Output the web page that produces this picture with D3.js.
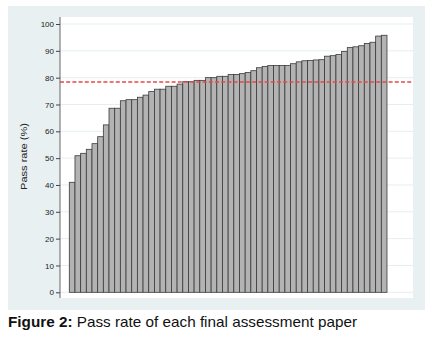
<!DOCTYPE html>
<html>
<head>
<meta charset="utf-8">
<script src="https://cdn.jsdelivr.net/npm/d3@7"></script>
<style>
  body { margin: 0; background: #fff; }
  svg { display: block; font-family: "Liberation Sans", Arial, sans-serif; }
</style>
</head>
<body>
<div id="chart"></div>
<script>
// pass rate (%) of each final assessment paper, sorted ascending
const passRates = [
  41.0, 50.9, 51.8, 53.3, 55.4, 58.0, 62.4, 68.6, 68.6, 71.4,
  71.8, 71.8, 72.7, 73.5, 74.8, 75.7, 75.7, 76.8, 76.8, 77.6,
  78.5, 78.5, 79.0, 79.0, 80.0, 80.0, 80.5, 80.5, 81.2, 81.2,
  81.5, 81.9, 82.6, 83.7, 84.2, 84.5, 84.5, 84.5, 84.5, 85.2,
  85.9, 86.3, 86.4, 86.6, 86.7, 88.0, 88.2, 88.6, 89.8, 91.2,
  91.5, 91.9, 92.7, 93.2, 95.5, 95.8
];
const meanRate = 78.4;
const yTicks = [0, 10, 20, 30, 40, 50, 60, 70, 80, 90, 100];
const yTitle = "Pass rate (%)";
const captionBold = "Figure 2:";
const captionText = " Pass rate of each final assessment paper";

const W = 432, H = 344;
const svg = d3.select("#chart").append("svg")
  .attr("width", W)
  .attr("height", H);

// outer graph region
svg.append("rect")
  .attr("x", 8).attr("y", 6)
  .attr("width", 417).attr("height", 304)
  .attr("fill", "#e8f0f2");

// plot region
const plot = { left: 60, right: 413, top: 17, bottom: 298 };
svg.append("rect")
  .attr("x", plot.left).attr("y", plot.top)
  .attr("width", plot.right - plot.left)
  .attr("height", plot.bottom - plot.top)
  .attr("fill", "#fff");

const x = d3.scaleBand()
  .domain(d3.range(passRates.length))
  .range([69.3, 387])
  .padding(0);

const y = d3.scaleLinear()
  .domain([0, 100])
  .range([292.3, 24]);

// gridlines
svg.append("g")
  .selectAll("line")
  .data(yTicks)
  .join("line")
  .attr("x1", plot.left).attr("x2", plot.right)
  .attr("y1", d => y(d)).attr("y2", d => y(d))
  .attr("stroke", "#e6eef0")
  .attr("stroke-width", 1);

// bars
svg.append("g")
  .selectAll("rect")
  .data(passRates)
  .join("rect")
  .attr("x", (d, i) => x(i))
  .attr("y", d => y(d))
  .attr("width", x.bandwidth())
  .attr("height", d => y(0) - y(d))
  .attr("fill", "#b3b3b3")
  .attr("stroke", "#3a3a3a")
  .attr("stroke-width", 0.8);

// mean line
svg.append("line")
  .attr("x1", plot.left).attr("x2", plot.right)
  .attr("y1", y(meanRate)).attr("y2", y(meanRate))
  .attr("stroke", "#e8484a")
  .attr("stroke-width", 1.5)
  .attr("stroke-dasharray", "4,2.2");

// y axis
const yAxis = svg.append("g")
  .attr("transform", `translate(${plot.left},0)`)
  .call(d3.axisLeft(y).tickValues(yTicks).tickSize(4).tickPadding(2));
yAxis.select(".domain")
  .attr("d", `M0,${plot.top}V${plot.bottom}`)
  .attr("stroke", "#666");
yAxis.selectAll(".tick line").attr("stroke", "#444");
yAxis.selectAll("text")
  .attr("fill", "#222")
  .style("font-size", "8px")
  .style("font-family", "Liberation Sans, Arial, sans-serif");

svg.append("text")
  .attr("transform", "translate(26.5,156.5) rotate(-90)")
  .attr("text-anchor", "middle")
  .attr("fill", "#222")
  .attr("textLength", 67)
  .attr("lengthAdjust", "spacingAndGlyphs")
  .style("font-size", "9px")
  .text(yTitle);

// caption
const cap = svg.append("text")
  .attr("x", 8).attr("y", 327)
  .attr("fill", "#111")
  .attr("textLength", 349)
  .attr("lengthAdjust", "spacingAndGlyphs")
  .style("font-size", "14.5px");
cap.append("tspan").attr("font-weight", "bold").text(captionBold);
cap.append("tspan").text(captionText);
</script>
</body>
</html>
